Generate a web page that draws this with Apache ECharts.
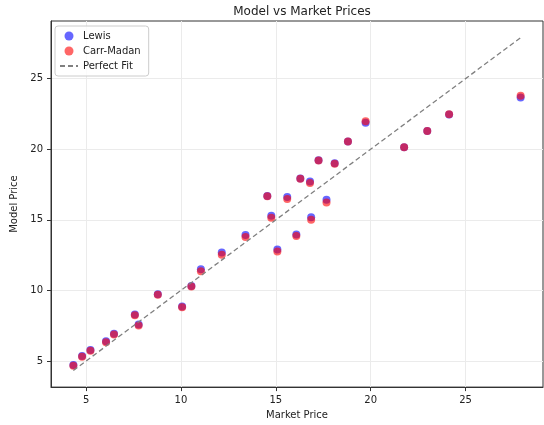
<!DOCTYPE html>
<html>
<head>
<meta charset="utf-8">
<script src="https://cdn.jsdelivr.net/npm/echarts@6/dist/echarts.min.js"></script>
<style>
  html, body { margin: 0; padding: 0; background: #ffffff; }
  #chart { width: 544px; height: 425px; }
</style>
</head>
<body>
<div id="chart"></div>
<script>
// market vs model prices
const marketPrice = [4.33, 4.79, 5.23, 6.05, 6.47, 7.57, 7.77, 8.78, 10.06, 10.55,
  11.05, 12.15, 13.40, 14.55, 14.76, 15.08, 15.60, 16.08, 16.29, 16.80,
  16.86, 17.25, 17.67, 18.10, 18.80, 19.73, 21.76, 22.98, 24.13, 27.90]
const lewisPrice = [4.72, 5.35, 5.78, 6.40, 6.93, 8.30, 7.58, 9.72, 8.86, 10.32,
  11.50, 12.68, 13.92, 16.68, 15.28, 12.90, 16.62, 13.95, 17.93, 17.72,
  15.18, 19.22, 16.42, 19.00, 20.55, 21.88, 20.14, 21.28, 22.45, 23.66]
const carrMadanPrice = [4.66, 5.30, 5.72, 6.32, 6.88, 8.24, 7.52, 9.70, 8.80, 10.28,
  11.36, 12.52, 13.78, 16.66, 15.14, 12.76, 16.48, 13.85, 17.90, 17.60,
  15.00, 19.20, 16.22, 18.97, 20.55, 21.98, 20.14, 21.28, 22.48, 23.78]
const xTicks = [5, 10, 15, 20, 25]
const yTicks = [5, 10, 15, 20, 25]

const font = 'DejaVu Sans'
const lo = Math.min(...marketPrice)
const hi = Math.max(...marketPrice)
const pad = (hi - lo) * 0.05

function pairs(xs, ys) {
  return xs.map((x, i) => [x, ys[i]])
}

function axisCommon(ticks) {
  return {
    type: 'value',
    min: lo - pad,
    max: hi + pad,
    axisLine: { show: true, lineStyle: { color: '#333', width: 1 } },
    axisTick: { show: true, inside: false, length: 4, customValues: ticks, lineStyle: { color: '#333' } },
    axisLabel: { customValues: ticks, color: '#222', fontFamily: font, fontSize: 10 },
    splitLine: { show: true, lineStyle: { color: '#ebebeb', width: 1 } },
    nameLocation: 'middle',
    nameTextStyle: { color: '#222', fontFamily: font, fontSize: 10 }
  }
}

const chart = echarts.init(document.getElementById('chart'))
chart.setOption({
  animation: false,
  title: {
    text: 'Model vs Market Prices',
    left: 297,
    textAlign: 'center',
    top: 1,
    textStyle: { fontFamily: font, fontSize: 12, fontWeight: 'normal', color: '#222' }
  },
  legend: {
    orient: 'vertical',
    left: 55,
    top: 26,
    padding: [5, 8, 5, 4],
    itemGap: 5,
    itemWidth: 18,
    itemHeight: 9,
    borderColor: '#ccc',
    borderWidth: 1,
    borderRadius: 3,
    backgroundColor: 'rgba(255,255,255,0.8)',
    textStyle: { fontFamily: font, fontSize: 10, color: '#222' },
    data: [
      { name: 'Lewis', icon: 'circle' },
      { name: 'Carr-Madan', icon: 'circle' },
      { name: 'Perfect Fit', itemStyle: { opacity: 0 } }
    ]
  },
  grid: { left: 51, top: 21, right: 1, bottom: 36, show: true, borderColor: '#333', borderWidth: 1 },
  xAxis: Object.assign(axisCommon(xTicks), { name: 'Market Price', nameGap: 22 }),
  yAxis: Object.assign(axisCommon(yTicks), { name: 'Model Price', nameGap: 30 }),
  series: [
    {
      name: 'Lewis',
      type: 'scatter',
      symbolSize: 8,
      itemStyle: { color: 'rgba(0,0,255,0.6)', opacity: 1 },
      data: pairs(marketPrice, lewisPrice)
    },
    {
      name: 'Carr-Madan',
      type: 'scatter',
      symbolSize: 8,
      itemStyle: { color: 'rgba(255,0,0,0.6)', opacity: 1 },
      data: pairs(marketPrice, carrMadanPrice)
    },
    {
      name: 'Perfect Fit',
      type: 'line',
      symbol: 'none',
      lineStyle: { color: '#808080', width: 1.3, type: [5, 3] },
      itemStyle: { color: '#808080' },
      data: [[lo, lo], [hi, hi]]
    }
  ]
})
</script>
</body>
</html>
